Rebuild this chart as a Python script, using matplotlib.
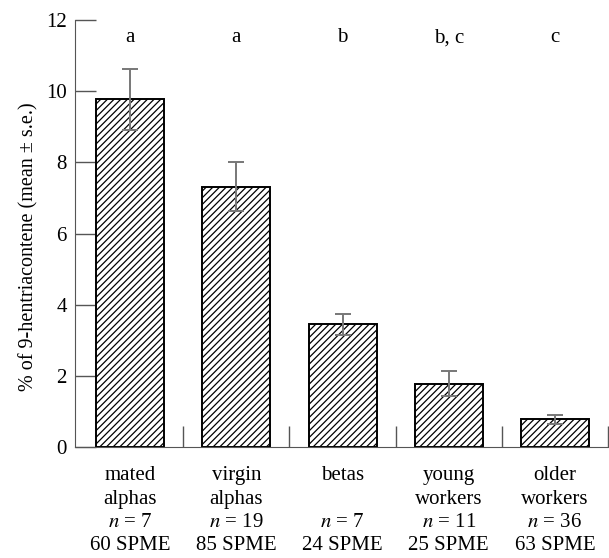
import matplotlib
matplotlib.use("Agg")
import matplotlib.pyplot as plt
import numpy as np

# --- dados ---
groups = ["mated\nalphas", "virgin\nalphas", "betas\n", "young\nworkers", "older\nworkers"]
n_ind = [7, 19, 7, 11, 36]
n_spme = [60, 85, 24, 25, 63]
means = [9.77, 7.32, 3.45, 1.78, 0.78]
errs = [0.85, 0.68, 0.30, 0.35, 0.12]
letters = ["a", "a", "b", "b, c", "c"]

plt.rcParams['font.family'] = ['Liberation Serif', 'DejaVu Serif']
plt.rcParams['mathtext.fontset'] = 'stix'
plt.rcParams['hatch.linewidth'] = 0.9

grey = '#555555'

fig = plt.figure(figsize=(6.09, 5.58), dpi=100)
ax = fig.add_axes([75 / 609, (558 - 447) / 558, 533 / 609, 427 / 558])

x = np.arange(len(means))
ax.bar(x, means, width=0.64, color='white', edgecolor='black',
       linewidth=1.4, hatch='/////', zorder=2)
ax.errorbar(x, means, yerr=errs, fmt='none', ecolor='#777777',
            elinewidth=1.4, capsize=6, capthick=1.4, zorder=3)

for xi, lab in zip(x, letters):
    ax.text(xi, 11.5, lab, ha='center', va='center', fontsize=15)

# rótulos do eixo x
xlabels = [f"{g}\n$n$ = {a}\n{b} SPME" for g, a, b in zip(groups, n_ind, n_spme)]
ax.set_xticks(x)
ax.set_xticklabels(xlabels, fontsize=15, linespacing=1.3)
ax.set_xticks(x + 0.5, minor=True)
ax.tick_params(axis='x', which='major', length=0, pad=14)
ax.tick_params(axis='x', which='minor', direction='in', length=15,
               color=grey, width=1.0)

ax.set_xlim(-0.52, 4.5)
ax.set_ylim(0, 12)
ax.set_yticks([0, 2, 4, 6, 8, 10, 12])
ax.tick_params(axis='y', direction='in', length=15, color=grey,
               width=1.0, labelsize=15, pad=6)

ax.spines['top'].set_visible(False)
ax.spines['right'].set_visible(False)
ax.spines['left'].set_color(grey)
ax.spines['bottom'].set_color(grey)

ax.set_ylabel("% of 9-hentriacontene (mean ± s.e.)", fontsize=14.5)
ax.yaxis.set_label_coords(-0.068, 0.47)

plt.savefig("out.png", dpi=100)
